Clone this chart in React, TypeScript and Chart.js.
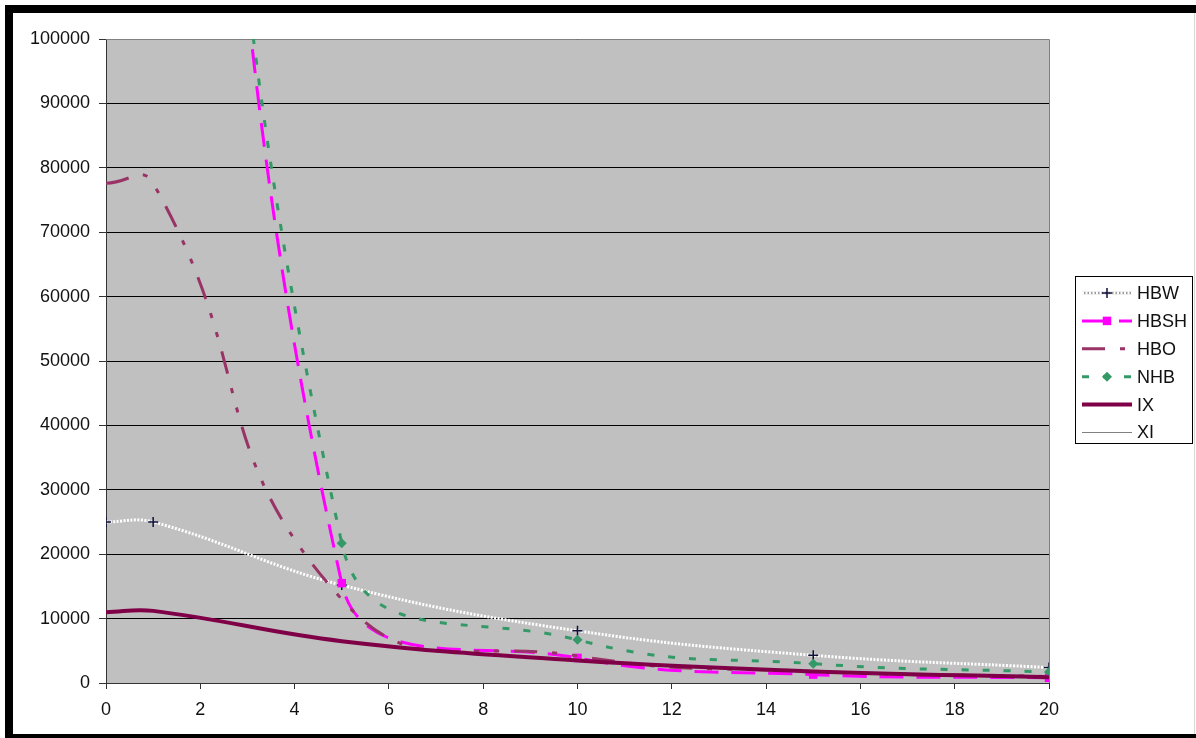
import React, { useEffect, useRef } from "react";
import { Chart, registerables } from "chart.js";

Chart.register(...registerables);

const xValues = [0, 1, 5, 10, 15, 20];
const seriesNames = ["HBW", "HBSH", "HBO", "NHB", "IX", "XI"];
const hbw = [25000, 25000, 15200, 8100, 4300, 2400];
const hbsh = [350000, 300000, 15500, 3900, 1300, 800];
const hbo = [77600, 77600, 13000, 4200, 1800, 1000];
const nhb = [360000, 310000, 21700, 6700, 3000, 1700];
const ix = [11000, 11200, 6500, 3500, 1800, 900];
const xi = [11000, 11200, 6500, 3500, 1800, 900];
const xTickValues = [0, 2, 4, 6, 8, 10, 12, 14, 16, 18, 20];
const yTickValues = [0, 10000, 20000, 30000, 40000, 50000, 60000, 70000, 80000, 90000, 100000];

const FONT = "'Liberation Sans', Arial, sans-serif";

function pts(values: number[]) {
  return values.map((v, i) => ({ x: xValues[i], y: v }));
}

function drawMarker(ctx: CanvasRenderingContext2D, style: string, x: number, y: number, r: number, fill: string, stroke: string, bw: number) {
  ctx.save();
  ctx.setLineDash([]);
  ctx.fillStyle = fill;
  ctx.strokeStyle = stroke;
  ctx.lineWidth = bw;
  if (style === "cross") {
    ctx.beginPath();
    ctx.moveTo(x - r, y);
    ctx.lineTo(x + r, y);
    ctx.moveTo(x, y - r);
    ctx.lineTo(x, y + r);
    ctx.stroke();
  } else if (style === "rect") {
    const s = r * Math.SQRT1_2;
    ctx.fillRect(x - s, y - s, 2 * s, 2 * s);
  } else if (style === "rectRot") {
    ctx.beginPath();
    ctx.moveTo(x, y - r);
    ctx.lineTo(x + r, y);
    ctx.lineTo(x, y + r);
    ctx.lineTo(x - r, y);
    ctx.closePath();
    ctx.fill();
  }
  ctx.restore();
}

const framePlugin = {
  id: "frame",
  beforeDraw(chart: any) {
    const { ctx, chartArea, width, height } = chart;
    ctx.save();
    ctx.fillStyle = "#ffffff";
    ctx.fillRect(0, 0, width, height);
    ctx.fillStyle = "#c0c0c0";
    ctx.fillRect(chartArea.left, chartArea.top, chartArea.right - chartArea.left, chartArea.bottom - chartArea.top);
    ctx.restore();
  },
  beforeDatasetsDraw(chart: any) {
    const { ctx, chartArea } = chart;
    ctx.save();
    ctx.strokeStyle = "#808080";
    ctx.lineWidth = 1;
    ctx.beginPath();
    ctx.moveTo(chartArea.left, chartArea.top + 0.5);
    ctx.lineTo(chartArea.right + 0.5, chartArea.top + 0.5);
    ctx.lineTo(chartArea.right + 0.5, chartArea.bottom);
    ctx.stroke();
    ctx.restore();
  },
  afterDraw(chart: any) {
    const { ctx, width, height } = chart;
    ctx.save();
    const bx = 1075.5, by = 276.5, bw = 117, bh = 167;
    ctx.fillStyle = "#ffffff";
    ctx.fillRect(bx, by, bw, bh);
    ctx.strokeStyle = "#000000";
    ctx.lineWidth = 1;
    ctx.strokeRect(bx, by, bw, bh);
    chart.data.datasets.forEach((ds: any, i: number) => {
      const y = 293 + i * 27.9;
      ctx.save();
      if (ds.legendBase) {
        ctx.beginPath();
        ctx.strokeStyle = ds.legendBase;
        ctx.lineWidth = ds.borderWidth - 0.5;
        ctx.moveTo(1082, y);
        ctx.lineTo(1132, y);
        ctx.stroke();
      }
      ctx.beginPath();
      ctx.setLineDash(ds.borderDash || []);
      ctx.strokeStyle = ds.borderColor;
      ctx.lineWidth = ds.borderWidth;
      ctx.moveTo(1082, y);
      ctx.lineTo(1132, y);
      ctx.stroke();
      ctx.restore();
      if (ds.pointRadius > 0) {
        drawMarker(ctx, ds.pointStyle, 1107, y, ds.pointRadius, ds.pointBackgroundColor, ds.pointBorderColor, ds.pointBorderWidth);
      }
      ctx.fillStyle = "#111111";
      ctx.font = `18px ${FONT}`;
      ctx.textBaseline = "middle";
      ctx.textAlign = "left";
      ctx.fillText(ds.label, 1137, y + 1);
    });
    ctx.fillStyle = "#000000";
    ctx.fillRect(5, 5, width - 5, 8);
    ctx.fillRect(5, 5, 8, height - 5);
    ctx.fillRect(5, height - 4, width - 5, 4);
    ctx.fillStyle = "#d8d8d8";
    ctx.fillRect(width - 2, 13, 1, height - 17);
    ctx.restore();
  },
};

export default function App() {
  const ref = useRef<HTMLCanvasElement | null>(null);
  useEffect(() => {
    document.body.style.margin = "0";
    const canvas = ref.current!;
    const chart = new Chart(canvas, {
      type: "scatter",
      data: {
        datasets: [
          {
            label: seriesNames[0],
            data: pts(hbw),
            showLine: true,
            borderColor: "#ffffff",
            legendBase: "#9a9a9a",
            borderWidth: 3,
            borderDash: [2, 1.5],
            tension: 0.4,
            pointStyle: "cross",
            pointRadius: 5,
            pointBorderColor: "#10103a",
            pointBackgroundColor: "#10103a",
            pointBorderWidth: 1.5,
            order: 6,
          },
          {
            label: seriesNames[1],
            data: pts(hbsh),
            showLine: true,
            borderColor: "#ff00ff",
            borderWidth: 3,
            borderDash: [24, 13],
            tension: 0.4,
            pointStyle: "rect",
            pointRadius: 6,
            pointBorderColor: "#ff00ff",
            pointBackgroundColor: "#ff00ff",
            pointBorderWidth: 0,
            order: 5,
          },
          {
            label: seriesNames[2],
            data: pts(hbo),
            showLine: true,
            borderColor: "#993366",
            borderWidth: 3,
            borderDash: [23, 15, 5, 15, 5, 15],
            tension: 0.5,
            pointRadius: 0,
            pointStyle: "circle",
            pointBorderColor: "#993366",
            pointBackgroundColor: "#993366",
            pointBorderWidth: 0,
            order: 4,
          },
          {
            label: seriesNames[3],
            data: pts(nhb),
            showLine: true,
            borderColor: "#339966",
            borderWidth: 3,
            borderDash: [7, 14],
            tension: 0.45,
            pointStyle: "rectRot",
            pointRadius: 5,
            pointBorderColor: "#339966",
            pointBackgroundColor: "#339966",
            pointBorderWidth: 0,
            order: 3,
          },
          {
            label: seriesNames[4],
            data: pts(ix),
            showLine: true,
            borderColor: "#800048",
            borderWidth: 4,
            tension: 0.4,
            pointRadius: 0,
            pointStyle: "circle",
            pointBorderColor: "#800048",
            pointBackgroundColor: "#800048",
            pointBorderWidth: 0,
            order: 1,
          },
          {
            label: seriesNames[5],
            data: pts(xi),
            showLine: true,
            borderColor: "#808080",
            borderWidth: 1,
            tension: 0.4,
            pointRadius: 0,
            pointStyle: "circle",
            pointBorderColor: "#808080",
            pointBackgroundColor: "#808080",
            pointBorderWidth: 0,
            order: 2,
          },
        ],
      },
      options: {
        responsive: false,
        animation: false,
        layout: { padding: { top: 39, right: 147, left: 0, bottom: 0 } },
        plugins: {
          legend: { display: false },
          tooltip: { enabled: false },
        },
        scales: {
          x: {
            type: "linear",
            min: 0,
            max: 20,
            afterFit: (s: any) => {
              s.height = 55;
            },
            afterBuildTicks: (s: any) => {
              s.ticks = xTickValues.map((v) => ({ value: v }));
            },
            ticks: {
              color: "#111111",
              font: { family: FONT, size: 18 },
              padding: 10,
              maxRotation: 0,
            },
            grid: {
              drawOnChartArea: false,
              drawTicks: true,
              tickLength: 6,
              tickColor: "#333333",
            },
            border: { color: "#333333", width: 1 },
          },
          y: {
            type: "linear",
            min: 0,
            max: 100000,
            afterFit: (s: any) => {
              s.width = 106;
            },
            afterBuildTicks: (s: any) => {
              s.ticks = yTickValues.map((v) => ({ value: v }));
            },
            ticks: {
              color: "#111111",
              font: { family: FONT, size: 18 },
              padding: 9,
              callback: (v: any) => String(v),
            },
            grid: {
              color: "#000000",
              lineWidth: 1,
              drawTicks: true,
              tickLength: 7,
              tickColor: "#333333",
            },
            border: { color: "#333333", width: 1 },
          },
        },
      },
      plugins: [framePlugin],
    } as any);
    return () => chart.destroy();
  }, []);
  return (
    <div style={{ width: 1196, height: 738 }}>
      <canvas ref={ref} width={1196} height={738} style={{ display: "block" }} />
    </div>
  );
}
